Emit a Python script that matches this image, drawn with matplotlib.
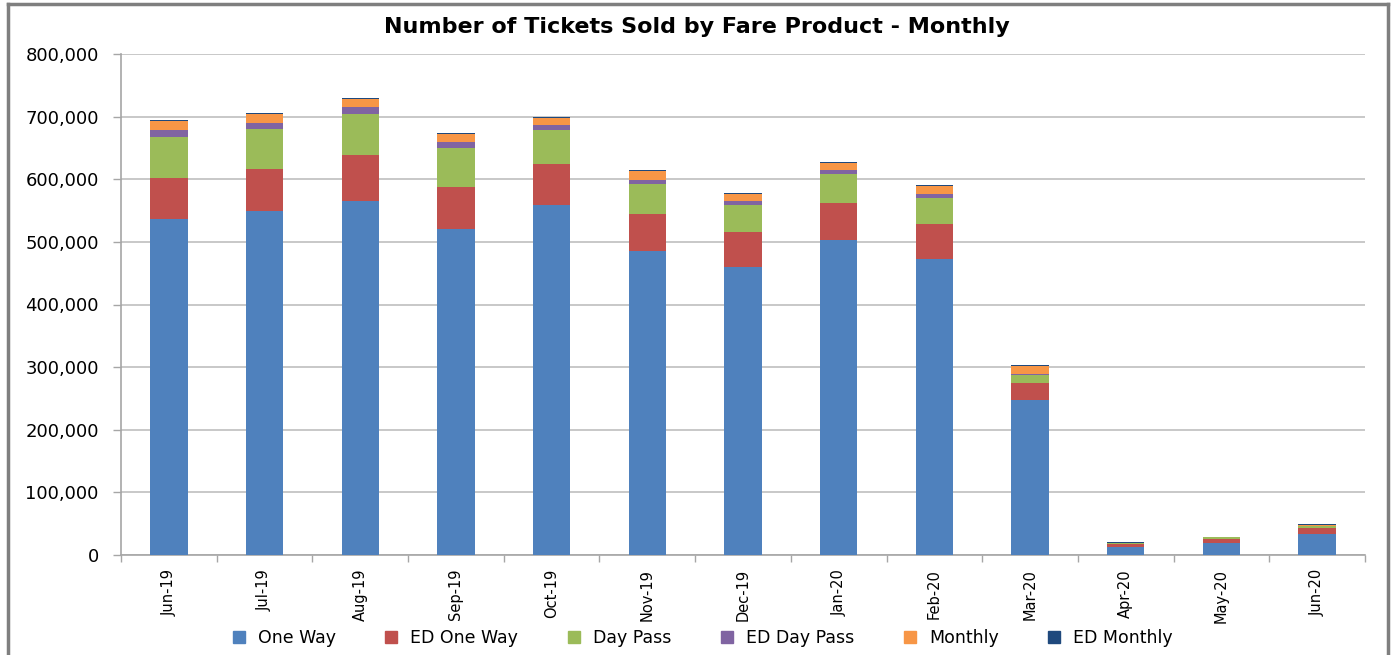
import matplotlib.pyplot as plt
import numpy as np
from matplotlib.lines import Line2D
from matplotlib.ticker import FuncFormatter, FixedLocator

# data
months = ['Jun-19', 'Jul-19', 'Aug-19', 'Sep-19', 'Oct-19', 'Nov-19', 'Dec-19',
          'Jan-20', 'Feb-20', 'Mar-20', 'Apr-20', 'May-20', 'Jun-20']
one_way = [537000, 549000, 565000, 520500, 558500, 485000, 459500, 503000, 472500, 247000, 13000, 19500, 34000]
ed_one_way = [65000, 67500, 73000, 66500, 66500, 59500, 57000, 59500, 56000, 28000, 5000, 6500, 9000]
day_pass = [66000, 63500, 66500, 63000, 54000, 48000, 42500, 46000, 41500, 12000, 1000, 2000, 3500]
ed_day_pass = [11000, 10500, 10700, 9500, 7000, 7000, 6000, 6500, 6500, 2500, 300, 300, 500]
monthly = [14000, 14000, 13500, 13000, 12500, 13000, 11000, 11000, 12500, 12500, 500, 300, 700]
ed_monthly = [1500, 1500, 1500, 1500, 1500, 1500, 1500, 1500, 1500, 800, 500, 500, 1300]

series = [('One Way', one_way, '#4F81BD'),
          ('ED One Way', ed_one_way, '#C0504D'),
          ('Day Pass', day_pass, '#9BBB59'),
          ('ED Day Pass', ed_day_pass, '#8064A2'),
          ('Monthly', monthly, '#F79646'),
          ('ED Monthly', ed_monthly, '#1F497D')]

fig = plt.figure(figsize=(13.94, 6.55), dpi=100)
ax = fig.add_axes([121/1394, 1-555/655, (1365-121)/1394, (555-54)/655])

x = np.arange(len(months))
bottom = np.zeros(len(months))
for name, vals, col in series:
    ax.bar(x, vals, bottom=bottom, width=0.39, color=col, label=name, zorder=3)
    bottom += np.array(vals)

ax.set_xlim(-0.5, len(months) - 0.5)
ax.set_ylim(0, 800000)
ax.set_yticks(np.arange(0, 800001, 100000))
ax.yaxis.set_major_formatter(FuncFormatter(lambda v, p: '{:,.0f}'.format(v)))
ax.grid(axis='y', color='#BFBFBF', linewidth=1.2, zorder=0)

ax.set_xticks(x)
ax.set_xticklabels(months, rotation=90, fontsize=10.5)
ax.xaxis.set_minor_locator(FixedLocator(np.arange(-0.5, len(months), 1)))
ax.tick_params(axis='x', which='major', length=0, pad=10)
ax.tick_params(axis='x', which='minor', length=5, color='#A6A6A6', width=1)
ax.tick_params(axis='y', length=6, color='#A6A6A6', width=1, labelsize=13, pad=10)

for s in ['top', 'right']:
    ax.spines[s].set_visible(False)
for s in ['left', 'bottom']:
    ax.spines[s].set_color('#A6A6A6')
    ax.spines[s].set_linewidth(1.2)

fig.text(0.5, 1-27/655, 'Number of Tickets Sold by Fare Product - Monthly',
         ha='center', va='center', fontsize=16, fontweight='bold')

handles = [Line2D([], [], marker='s', linestyle='none', markersize=8,
                  markerfacecolor=c, markeredgecolor=c) for _, _, c in series]
fig.legend(handles, [n for n, _, _ in series], loc='center',
           bbox_to_anchor=(0.5, 1-638/655), ncol=6, frameon=False,
           fontsize=12.5, handletextpad=0.1, columnspacing=2.2)

# outer chart frame
frame_kw = dict(color='#7F7F7F', linewidth=2.5, transform=fig.transFigure)
fig.add_artist(Line2D([8/1394, 8/1394], [0, 1-4/655], **frame_kw))
fig.add_artist(Line2D([1388/1394, 1388/1394], [0, 1-4/655], **frame_kw))
fig.add_artist(Line2D([8/1394, 1388/1394], [1-4/655, 1-4/655], **frame_kw))

fig.savefig('out.png', dpi=100)
